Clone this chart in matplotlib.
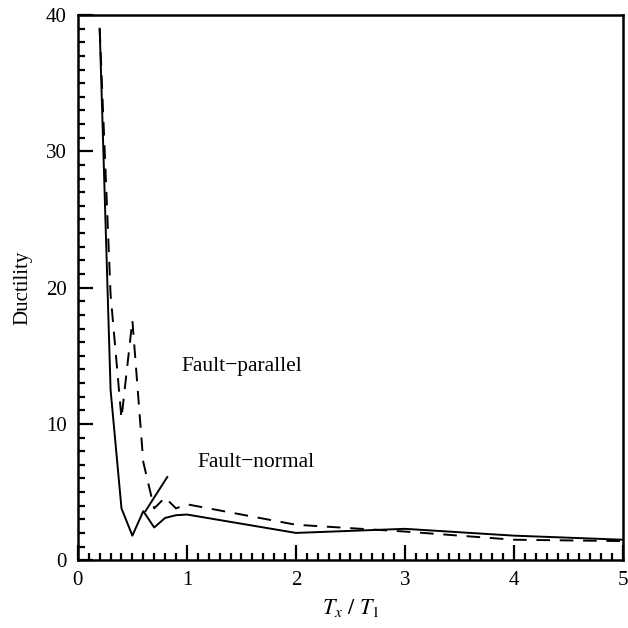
import numpy as np
import matplotlib
matplotlib.use("Agg")
import matplotlib.pyplot as plt
from matplotlib.ticker import MultipleLocator

plt.rcParams['font.family'] = ['Liberation Serif', 'DejaVu Serif']
plt.rcParams['mathtext.fontset'] = 'stix'

# fault-normal (solid)
tn = [0.2, 0.3, 0.4, 0.5, 0.6, 0.7, 0.8, 0.9, 1.0, 2.0, 3.0, 4.0, 5.0]
mu_normal = [39.0, 12.5, 3.8, 1.8, 3.6, 2.4, 3.1, 3.3, 3.35, 2.0, 2.3, 1.8, 1.5]

# fault-parallel (dashed)
tp = [0.2, 0.3, 0.4, 0.5, 0.6, 0.7, 0.8, 0.9, 1.0, 2.0, 3.0, 4.0, 5.0]
mu_parallel = [39.0, 19.5, 10.4, 17.6, 7.2, 3.8, 4.6, 3.8, 4.1, 2.6, 2.1, 1.5, 1.4]

# leader line for the fault-normal label
lead_x = [0.62, 0.82]
lead_y = [3.6, 6.1]

fig = plt.figure(figsize=(6.28, 6.28), dpi=100)
ax = fig.add_axes([0.124, 0.108, 0.868, 0.868])

ax.plot(tn, mu_normal, color='black', lw=1.4)
ax.plot(tp, mu_parallel, color='black', lw=1.4, dashes=(7, 5))
ax.plot(lead_x, lead_y, color='black', lw=1.4)

ax.text(0.95, 14.2, 'Fault\u2212parallel', fontsize=15.5, va='center')
ax.text(1.10, 7.2, 'Fault\u2212normal', fontsize=15.5, va='center')

ax.set_xlim(0, 5)
ax.set_ylim(0, 40)
ax.xaxis.set_major_locator(MultipleLocator(1))
ax.xaxis.set_minor_locator(MultipleLocator(0.1))
ax.yaxis.set_major_locator(MultipleLocator(10))
ax.yaxis.set_minor_locator(MultipleLocator(1))
ax.tick_params(which='both', direction='in', top=False, right=False, width=1.6, labelsize=15)
ax.tick_params(which='major', length=11, pad=8)
ax.tick_params(which='minor', length=5)
for s in ax.spines.values():
    s.set_linewidth(1.8)

ax.set_xlabel(r'$T_x\ /\ T_1$', fontsize=16, labelpad=5)
ax.set_ylabel('Ductility', fontsize=15, labelpad=10)

fig.savefig('out.png', dpi=100)
